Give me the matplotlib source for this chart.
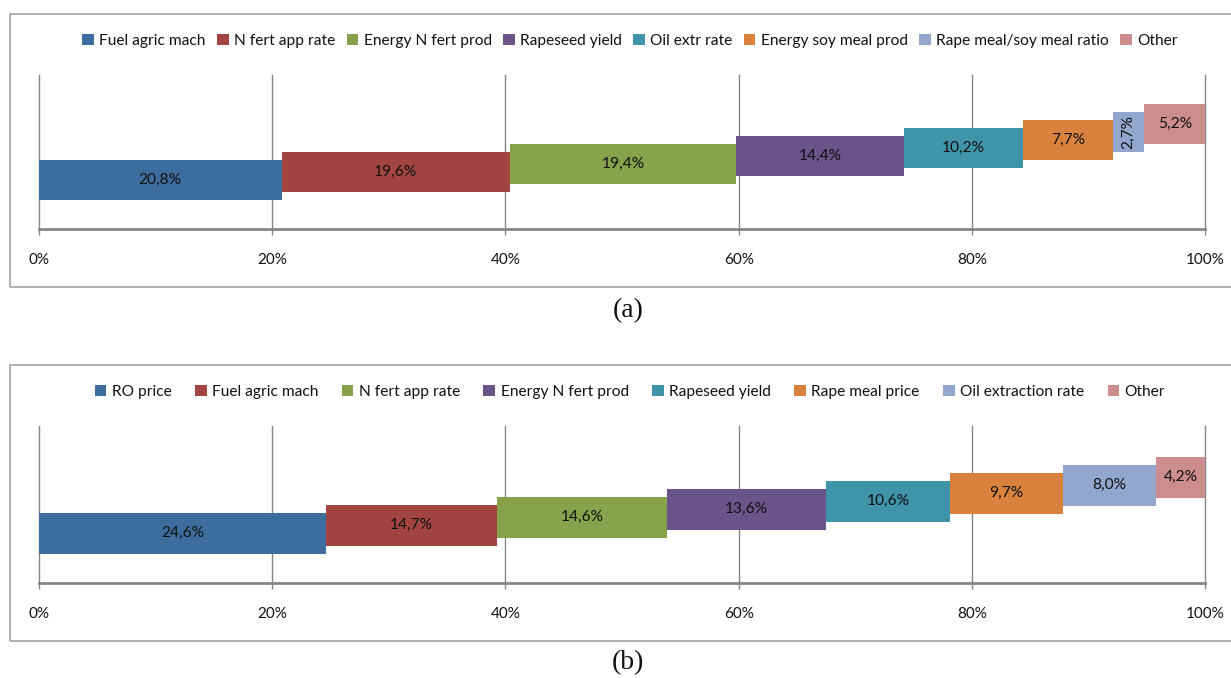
import matplotlib
matplotlib.use("Agg")
import matplotlib.pyplot as plt
from matplotlib.patches import Rectangle, Patch

# ---------------- data ----------------
cats_a = ["Fuel agric mach", "N fert app rate", "Energy N fert prod", "Rapeseed yield",
          "Oil extr rate", "Energy soy meal prod", "Rape meal/soy meal ratio", "Other"]
vals_a = [20.8, 19.6, 19.4, 14.4, 10.2, 7.7, 2.7, 5.2]

cats_b = ["RO price", "Fuel agric mach", "N fert app rate", "Energy N fert prod",
          "Rapeseed yield", "Rape meal price", "Oil extraction rate", "Other"]
vals_b = [24.6, 14.7, 14.6, 13.6, 10.6, 9.7, 8.0, 4.2]

xticks = [0, 20, 40, 60, 80, 100]
xtick_labels = ["0%", "20%", "40%", "60%", "80%", "100%"]

palette = ["#3D6D9E", "#A24441", "#86A24B", "#6B548A",
           "#4094A9", "#D8823E", "#93A7CE", "#CD8D8C"]

W, H = 1231, 678
fig = plt.figure(figsize=(W / 100, H / 100), dpi=100)

FONT = ["Lato", "DejaVu Sans"]
TXT = "#111111"
GRID = "#868686"


def fx(px):
    return px / W


def fy(py):
    return 1 - py / H


def panel(cats, vals, frame_top, frame_bot, grid_top, base, first_off, bar_px,
          legend_y, colspace, caption, cap_y):
    # outer frame
    fig.patches.append(Rectangle((fx(9.5), fy(frame_bot)), fx(1260), fy(frame_top) - fy(frame_bot),
                                 transform=fig.transFigure, fill=False,
                                 edgecolor="#A3A3A3", linewidth=1.2, zorder=0))
    left_px, right_px = 39, 1205
    ax = fig.add_axes([fx(left_px), fy(base), fx(right_px - left_px), (base - grid_top) / H])
    step_px = 8.0
    hpx = base - grid_top
    ax.set_ylim(-first_off / step_px, (hpx - first_off) / step_px)
    ax.set_xlim(0, 100)
    left = 0.0
    for i, (c, v) in enumerate(zip(cats, vals)):
        ax.barh(i, v, left=left, height=bar_px / step_px, color=palette[i],
                edgecolor="none", zorder=3)
        lab = f"{v:.1f}%".replace(".", ",")
        rot = 90 if v < 3 else 0
        ax.text(left + v / 2, i, lab, ha="center", va="center", rotation=rot,
                fontsize=11.2, color=TXT, family=FONT, zorder=4)
        left += v
    ax.set_xticks(xticks)
    ax.set_xticklabels(xtick_labels, family=FONT, fontsize=11, color=TXT)
    ax.set_yticks([])
    ax.grid(axis="x", color=GRID, linewidth=1.0, zorder=0)
    for s in ["top", "right", "left"]:
        ax.spines[s].set_visible(False)
    ax.spines["bottom"].set_color(GRID)
    ax.spines["bottom"].set_linewidth(2.0)
    ax.tick_params(axis="x", direction="out", length=4, width=1.0, color=GRID, pad=13)
    ax.set_facecolor("none")
    for ln in ax.get_xgridlines():
        ln.set_clip_on(False)
    handles = [Patch(facecolor=palette[i], edgecolor="none", label=c) for i, c in enumerate(cats)]
    fig.legend(handles=handles, loc="center", bbox_to_anchor=(fx(630), fy(legend_y)),
               ncol=len(cats), frameon=False, prop={"family": FONT, "size": 11.2},
               handlelength=0.75, handleheight=0.75, handletextpad=0.35,
               columnspacing=colspace, labelcolor=TXT)
    fig.text(fx(628), fy(cap_y), caption, ha="center", va="center",
             family=["Liberation Serif", "DejaVu Serif"], fontsize=20, color="#111111")
    return ax


panel(cats_a, vals_a, 14, 287, 75, 229, 49, 40, 41, 0.72, "(a)", 311)
panel(cats_b, vals_b, 365, 641, 426, 583, 50, 41, 392, 1.5, "(b)", 663)

fig.savefig("out.png", dpi=100)
